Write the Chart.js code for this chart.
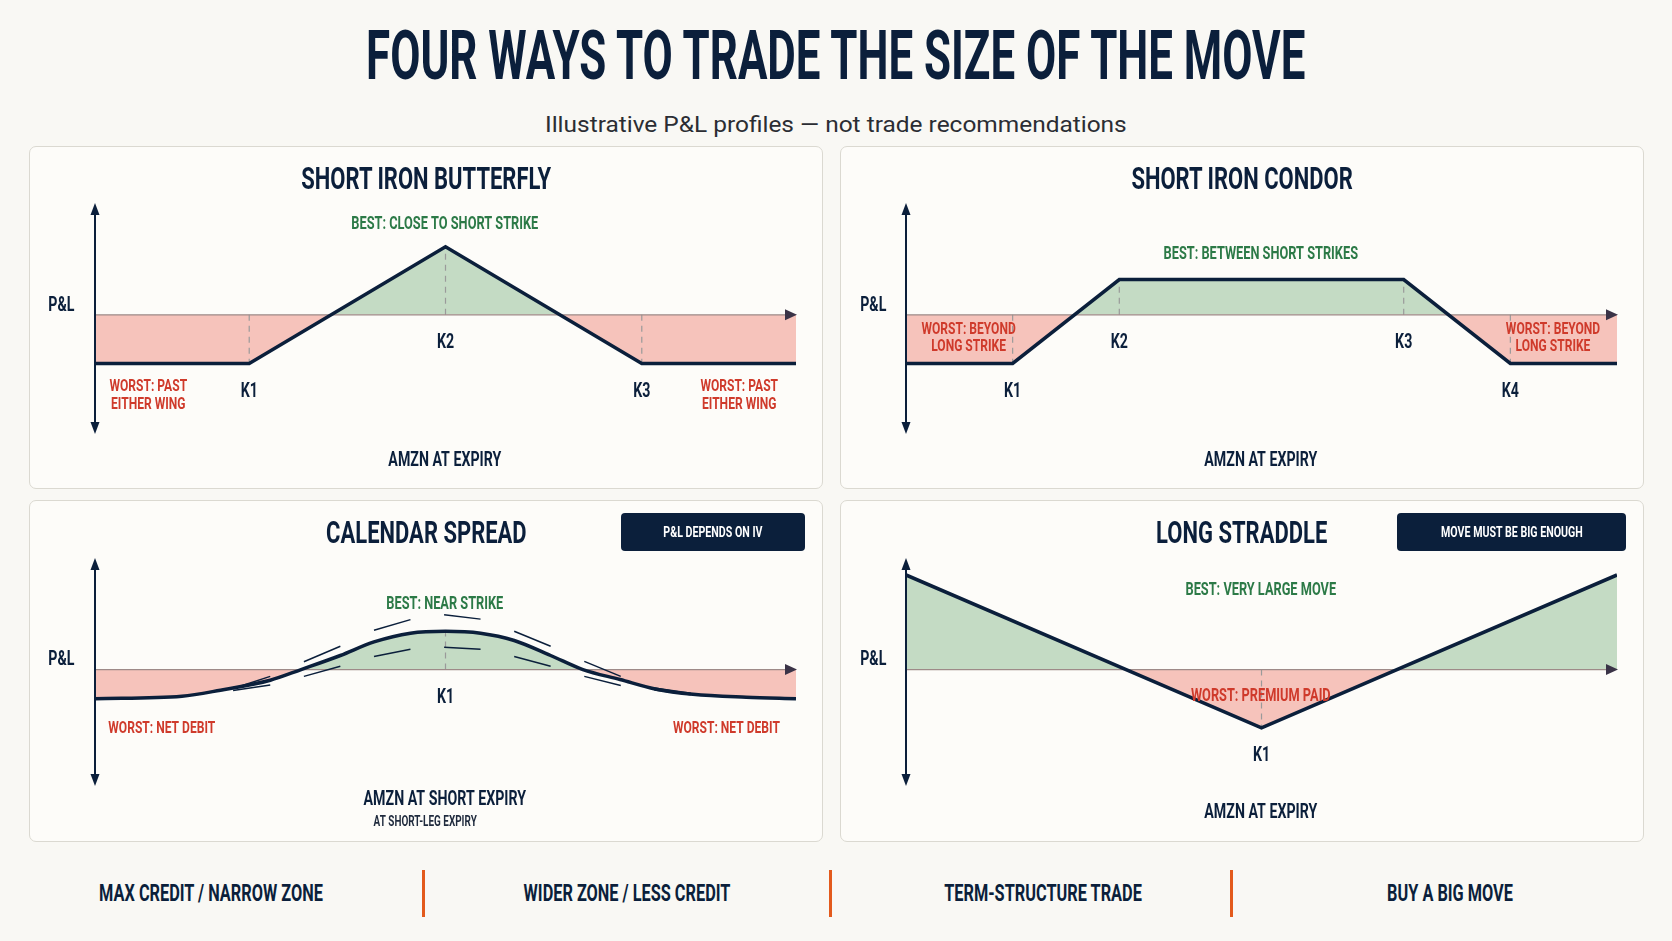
<!DOCTYPE html>
<html lang="en">
<head>
  <meta charset="UTF-8" />
  <title>Four Ways to Trade the Size of the Move</title>
  <script src="https://cdn.jsdelivr.net/npm/chart.js@4.4.0/dist/chart.umd.min.js"></script>
  <style>
    :root {
      --navy: #0b1f3b;
      --page: #f9f8f4;
      --card: #fdfcf9;
      --border: #dbd9d1;
      --orange: #e35a1c;
      --cond: 0.7;
      --font-cond: 'Liberation Sans Narrow', 'Roboto', 'Liberation Sans', sans-serif;
    }
    * { box-sizing: border-box; margin: 0; padding: 0; }
    body {
      width: 1672px;
      height: 941px;
      background: var(--page);
      position: relative;
      overflow: hidden;
      color: var(--navy);
    }
    .cond { display: inline-block; white-space: nowrap; font-family: var(--font-cond); font-weight: 700; line-height: 1; }
    #title-wrap { position: absolute; left: 0; right: 0; top: 21px; text-align: center; }
    #title { font-size: 69px; transform-origin: center; }
    #sub-wrap { position: absolute; left: 0; right: 0; top: 114px; text-align: center; }
    #subtitle { display: inline-block; font-family: 'Roboto', sans-serif; font-size: 21.5px; line-height: 1; color: #2b2d33; white-space: nowrap; }
    .panel {
      position: absolute;
      background: var(--card);
      border: 1px solid var(--border);
      border-radius: 7px;
    }
    .panel canvas { position: absolute; left: -1px; top: -1px; }
    .panel h2 {
      position: absolute; left: 0; right: 0; text-align: center;
      font-size: 31px; font-weight: 700;
    }
    .panel h2 span { transform: scaleX(var(--cond)); }
    .badge {
      position: absolute; right: 17px; top: 12px; height: 38px;
      background: var(--navy); border-radius: 4px; color: #fff;
      display: flex; align-items: center; justify-content: center;
    }
    .badge span { font-size: 15px; transform: scaleX(var(--cond)); }
    .foot {
      position: absolute; top: 882px; font-size: 23px;
      transform: translateX(-50%) scaleX(var(--cond));
    }
    .divider { position: absolute; top: 870px; width: 3px; height: 47px; background: var(--orange); }
  </style>
</head>
<body>
  <div id="title-wrap"><span id="title" class="cond">FOUR WAYS TO TRADE THE SIZE OF THE MOVE</span></div>
  <div id="sub-wrap"><span id="subtitle">Illustrative P&amp;L profiles — not trade recommendations</span></div>

  <div class="panel" id="p1" style="left:29px; top:146px; width:794px; height:343px;">
    <canvas id="c1"></canvas>
    <h2 style="top:14px;"><span class="cond"></span></h2>
  </div>
  <div class="panel" id="p2" style="left:840px; top:146px; width:804px; height:343px;">
    <canvas id="c2"></canvas>
    <h2 style="top:14px;"><span class="cond"></span></h2>
  </div>
  <div class="panel" id="p3" style="left:29px; top:500px; width:794px; height:342px;">
    <canvas id="c3"></canvas>
    <h2 style="top:13.5px;"><span class="cond"></span></h2>
    <div class="badge" style="width:184px;"><span class="cond"></span></div>
  </div>
  <div class="panel" id="p4" style="left:840px; top:500px; width:804px; height:342px;">
    <canvas id="c4"></canvas>
    <h2 style="top:13.5px;"><span class="cond"></span></h2>
    <div class="badge" style="width:229px;"><span class="cond"></span></div>
  </div>

  <div id="footer"></div>

  <script>
    // ---- text ----
    const panelTitles = ['SHORT IRON BUTTERFLY', 'SHORT IRON CONDOR', 'CALENDAR SPREAD', 'LONG STRADDLE'];
    const badgeLabels = ['P&L DEPENDS ON IV', 'MOVE MUST BE BIG ENOUGH'];
    const footerLabels = ['MAX CREDIT / NARROW ZONE', 'WIDER ZONE / LESS CREDIT', 'TERM-STRUCTURE TRADE', 'BUY A BIG MOVE'];
    const yAxisTitle = 'P&L';
    const xAxisTitles = ['AMZN AT EXPIRY', 'AMZN AT EXPIRY', 'AMZN AT SHORT EXPIRY', 'AMZN AT EXPIRY'];
    const calendarNote = 'AT SHORT-LEG EXPIRY';

    // ---- short iron butterfly (price 0-100, P&L in units of max loss) ----
    const flyPrice = [0, 22, 50, 78, 100];
    const flyPnl = [-1, -1, 1.4, -1, -1];
    const flyStrikes = [22, 50, 78];
    const flyStrikeNames = ['K1', 'K2', 'K3'];

    // ---- short iron condor ----
    const condorPrice = [0, 15, 30, 70, 85, 100];
    const condorPnl = [-1, -1, 0.725, 0.725, -1, -1];
    const condorStrikes = [15, 30, 70, 85];
    const condorStrikeNames = ['K1', 'K2', 'K3', 'K4'];

    // ---- calendar spread ----
    const calPrice = [0, 12.4, 17.9, 25, 29.4, 35, 39.8, 45, 50, 55, 59.8, 65, 69.6, 74.9, 79.9, 85.3, 92.9, 100];
    const calPnl = [-0.60, -0.55, -0.425, -0.22, 0, 0.29, 0.57, 0.75, 0.79, 0.75, 0.60, 0.29, 0, -0.205, -0.40, -0.51, -0.57, -0.60];
    const calBandPrice = [19.7, 25, 29.8, 35, 39.8, 45, 49.8, 55, 59.8, 65, 69.8, 75, 79.8, 85];
    const calHighIv = [-0.39, -0.14, 0.16, 0.48, 0.81, 1.03, 1.13, 1.04, 0.79, 0.48, 0.17, -0.14, -0.38, -0.49];
    const calLowIv = [-0.43, -0.32, -0.14, 0.07, 0.27, 0.42, 0.46, 0.42, 0.27, 0.07, -0.14, -0.33, -0.42, -0.52];
    const calStrikes = [50];
    const calStrikeNames = ['K1'];

    // ---- long straddle ----
    const stradPrice = [0, 50, 100];
    const stradPnl = [1.95, -1.2, 1.95];
    const stradStrikes = [50];
    const stradStrikeNames = ['K1'];

    // ---- colours ----
    const NAVY = '#0b1f3b';
    const GREEN_FILL = '#c4dbc4';
    const PINK_FILL = '#f6c3bb';
    const GREEN_TXT = '#2c7a47';
    const RED_TXT = '#cf3a2b';
    const ZERO_LINE = '#9e8a88';
    const GUIDE = '#9a9a9a';
    const FONT = "'Liberation Sans Narrow', 'Roboto', 'Liberation Sans', sans-serif";

    // horizontal squeeze so the stand-in font matches the condensed face
    const mctx = document.createElement('canvas').getContext('2d');
    mctx.font = `bold 18px ${FONT}`;
    const COND = 187 / mctx.measureText('BEST: CLOSE TO SHORT STRIKE').width;
    document.documentElement.style.setProperty('--cond', COND);

    // fill the HTML text
    document.querySelectorAll('.panel h2 span').forEach((el, i) => el.textContent = panelTitles[i]);
    document.querySelectorAll('.badge span').forEach((el, i) => el.textContent = badgeLabels[i]);
    const footCenters = [210.5, 626.5, 1043, 1450];
    const dividerLefts = [422, 828.5, 1229.5];
    const footer = document.getElementById('footer');
    footerLabels.forEach((t, i) => {
      const s = document.createElement('span');
      s.className = 'cond foot';
      s.style.left = footCenters[i] + 'px';
      s.textContent = t;
      footer.appendChild(s);
      if (i < dividerLefts.length) {
        const d = document.createElement('div');
        d.className = 'divider';
        d.style.left = dividerLefts[i] + 'px';
        footer.appendChild(d);
      }
    });
    const title = document.getElementById('title');
    title.style.transform = `scaleX(${939 / title.offsetWidth})`;
    const sub = document.getElementById('subtitle');
    sub.style.transform = `scaleX(${582 / sub.offsetWidth})`;

    function valueAt(xs, ys, x) {
      for (let i = 1; i < xs.length; i++) {
        if (x <= xs[i]) {
          const t = (x - xs[i - 1]) / (xs[i] - xs[i - 1]);
          return ys[i - 1] + t * (ys[i] - ys[i - 1]);
        }
      }
      return ys[ys.length - 1];
    }

    function drawText(ctx, s, px, py, size, color, align = 'center', weight = 'bold') {
      ctx.save();
      ctx.font = `${weight} ${size}px ${FONT}`;
      ctx.fillStyle = color;
      ctx.textBaseline = 'alphabetic';
      ctx.textAlign = align;
      ctx.translate(px, py);
      ctx.scale(COND, 1);
      ctx.fillText(s, 0, size * 0.356);
      ctx.restore();
    }

    function tri(ctx, pts, color) {
      ctx.fillStyle = color;
      ctx.beginPath();
      ctx.moveTo(pts[0], pts[1]);
      ctx.lineTo(pts[2], pts[3]);
      ctx.lineTo(pts[4], pts[5]);
      ctx.closePath();
      ctx.fill();
    }

    function makeDecor(cfg) {
      return {
        id: 'decor',
        beforeDatasetsDraw(chart) {
          const { ctx, chartArea: a, scales: { x, y } } = chart;
          const y0 = y.getPixelForValue(0);
          ctx.save();
          // dashed strike guides, zero line to payoff
          ctx.strokeStyle = GUIDE;
          ctx.lineWidth = 1.2;
          ctx.setLineDash([6, 5]);
          cfg.strikes.forEach(k => {
            const px = x.getPixelForValue(k);
            ctx.beginPath();
            ctx.moveTo(px, y0);
            ctx.lineTo(px, y.getPixelForValue(valueAt(cfg.xs, cfg.ys, k)));
            ctx.stroke();
          });
          ctx.setLineDash([]);
          // zero line
          ctx.strokeStyle = ZERO_LINE;
          ctx.lineWidth = 1.3;
          ctx.beginPath();
          ctx.moveTo(a.left, y0);
          ctx.lineTo(a.right - 9, y0);
          ctx.stroke();
          // P&L axis
          ctx.strokeStyle = NAVY;
          ctx.lineWidth = 2;
          ctx.beginPath();
          ctx.moveTo(a.left, a.top + 6);
          ctx.lineTo(a.left, a.bottom - 6);
          ctx.stroke();
          ctx.restore();
        },
        afterDatasetsDraw(chart) {
          const { ctx, chartArea: a, scales: { x, y } } = chart;
          const y0 = y.getPixelForValue(0);
          ctx.save();
          tri(ctx, [a.left, a.top, a.left - 4.5, a.top + 12, a.left + 4.5, a.top + 12], NAVY);
          tri(ctx, [a.left, a.bottom, a.left - 4.5, a.bottom - 12, a.left + 4.5, a.bottom - 12], NAVY);
          tri(ctx, [a.right + 1, y0, a.right - 11, y0 - 5.5, a.right - 11, y0 + 5.5], '#3a3347');
          ctx.restore();

          // strike labels sit under the lower of payoff / zero line
          cfg.strikes.forEach((k, i) => {
            const v = Math.min(0, valueAt(cfg.xs, cfg.ys, k));
            drawText(ctx, cfg.strikeNames[i], x.getPixelForValue(k), y.getPixelForValue(v) + 26.5, 20, NAVY);
          });
          cfg.notes.forEach(n => {
            const lines = Array.isArray(n.text) ? n.text : [n.text];
            lines.forEach((t, j) => {
              drawText(ctx, t, x.getPixelForValue(n.x), y.getPixelForValue(n.y) + j * 17.5,
                n.size || 17, n.color || NAVY, n.align || 'center', n.weight || 'bold');
            });
          });
        }
      };
    }

    function buildPayoff(id, cfg) {
      const canvas = document.getElementById(id);
      const panel = canvas.parentElement;
      canvas.width = panel.offsetWidth;
      canvas.height = panel.offsetHeight;
      const datasets = [{
        data: cfg.xs.map((v, i) => ({ x: v, y: cfg.ys[i] })),
        borderColor: NAVY,
        borderWidth: 3.5,
        borderJoinStyle: 'miter',
        cubicInterpolationMode: cfg.smooth ? 'monotone' : 'default',
        tension: cfg.smooth ? 0.4 : 0,
        fill: { target: 'origin', above: GREEN_FILL, below: PINK_FILL },
        order: 0
      }];
      (cfg.bands || []).forEach(b => datasets.push({
        data: b.xs.map((v, i) => ({ x: v, y: b.ys[i] })),
        borderColor: NAVY,
        borderWidth: 1.5,
        tension: 0,
        fill: false,
        segment: { borderColor: c => c.p0DataIndex % 2 === 0 ? NAVY : 'rgba(0,0,0,0)' },
        order: 1
      }));
      return new Chart(canvas, {
        type: 'line',
        data: { datasets },
        options: {
          responsive: false,
          animation: false,
          events: [],
          layout: { padding: cfg.padding },
          elements: { point: { radius: 0 } },
          scales: {
            x: { type: 'linear', min: 0, max: 100, display: false },
            y: { type: 'linear', min: cfg.yMin, max: cfg.yMax, display: false }
          },
          plugins: {
            legend: { display: false },
            tooltip: { enabled: false },
            filler: { drawTime: 'beforeDraw' }
          }
        },
        plugins: [makeDecor(cfg)]
      });
    }

    const padTop = { left: 66, right: 27, top: 57, bottom: 55 };
    const padBottom = { left: 66, right: 27, top: 58, bottom: 56 };

    buildPayoff('c1', {
      xs: flyPrice, ys: flyPnl, strikes: flyStrikes, strikeNames: flyStrikeNames,
      yMin: -2.45, yMax: 2.3, padding: padTop,
      notes: [
        { text: 'BEST: CLOSE TO SHORT STRIKE', x: 49.9, y: 1.895, color: GREEN_TXT, size: 18 },
        { text: ['WORST: PAST', 'EITHER WING'], x: 7.6, y: -1.45, color: RED_TXT },
        { text: ['WORST: PAST', 'EITHER WING'], x: 91.9, y: -1.45, color: RED_TXT },
        { text: xAxisTitles[0], x: 49.9, y: -2.96, size: 20 },
        { text: yAxisTitle, x: -4.8, y: 0.23, size: 20 }
      ]
    });

    buildPayoff('c2', {
      xs: condorPrice, ys: condorPnl, strikes: condorStrikes, strikeNames: condorStrikeNames,
      yMin: -2.45, yMax: 2.3, padding: padTop,
      notes: [
        { text: 'BEST: BETWEEN SHORT STRIKES', x: 49.9, y: 1.285, color: GREEN_TXT, size: 18 },
        { text: ['WORST: BEYOND', 'LONG STRIKE'], x: 8.8, y: -0.26, color: RED_TXT },
        { text: ['WORST: BEYOND', 'LONG STRIKE'], x: 91.0, y: -0.26, color: RED_TXT },
        { text: xAxisTitles[1], x: 49.9, y: -2.96, size: 20 },
        { text: yAxisTitle, x: -4.6, y: 0.23, size: 20 }
      ]
    });

    buildPayoff('c3', {
      xs: calPrice, ys: calPnl, strikes: calStrikes, strikeNames: calStrikeNames,
      yMin: -2.4, yMax: 2.3, padding: padBottom, smooth: true,
      bands: [{ xs: calBandPrice, ys: calHighIv }, { xs: calBandPrice, ys: calLowIv }],
      notes: [
        { text: 'BEST: NEAR STRIKE', x: 49.9, y: 1.39, color: GREEN_TXT, size: 18 },
        { text: 'WORST: NET DEBIT', x: 1.9, y: -1.18, color: RED_TXT, align: 'left' },
        { text: 'WORST: NET DEBIT', x: 97.7, y: -1.18, color: RED_TXT, align: 'right' },
        { text: xAxisTitles[2], x: 49.9, y: -2.65, size: 20 },
        { text: calendarNote, x: 47.1, y: -3.13, size: 14, color: '#1f2a3d' },
        { text: yAxisTitle, x: -4.8, y: 0.24, size: 20 }
      ]
    });

    buildPayoff('c4', {
      xs: stradPrice, ys: stradPnl, strikes: stradStrikes, strikeNames: stradStrikeNames,
      yMin: -2.4, yMax: 2.3, padding: padBottom,
      notes: [
        { text: 'BEST: VERY LARGE MOVE', x: 49.9, y: 1.675, color: GREEN_TXT, size: 18 },
        { text: 'WORST: PREMIUM PAID', x: 49.9, y: -0.51, color: RED_TXT, size: 18 },
        { text: xAxisTitles[3], x: 49.9, y: -2.91, size: 20 },
        { text: yAxisTitle, x: -4.6, y: 0.24, size: 20 }
      ]
    });
  </script>
</body>
</html>
